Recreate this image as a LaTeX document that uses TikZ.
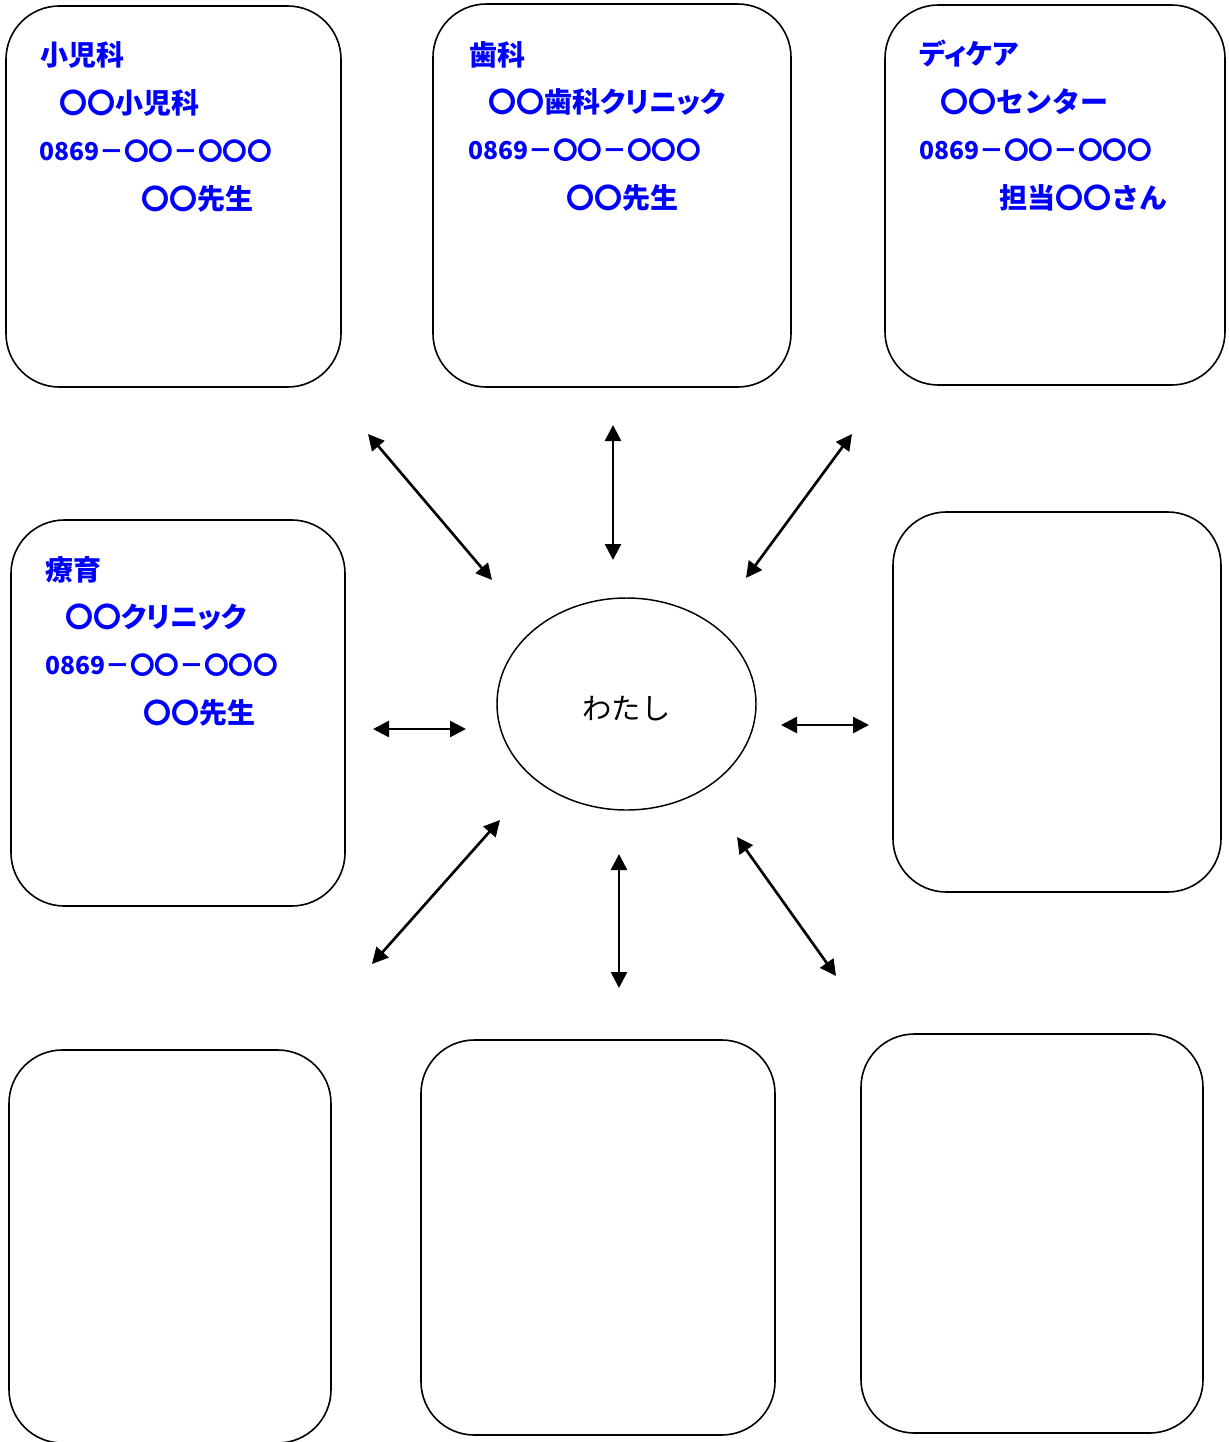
\documentclass[tikz,border=0pt]{standalone}
\usepackage{fontspec}
\setmainfont{Noto Sans CJK JP}
\newfontfamily\jpp{Noto Sans CJK JP}[RawFeature=+palt]
\usetikzlibrary{arrows.meta,shapes.geometric}
\definecolor{txtblue}{RGB}{0,0,255}
\tikzset{
  box/.style={draw, line width=1.2pt, rounded corners=40pt, inner sep=0pt, outer sep=0pt},
  lbl/.style={anchor=west, inner sep=0pt, text=txtblue, text height=0.88em, text depth=0.12em, font=\bfseries\fontsize{21}{21}\selectfont},
  plbl/.style={lbl, font=\jpp\bfseries\fontsize{21}{21}\selectfont},
  tel/.style={lbl, font=\bfseries\fontsize{18.5}{18.5}\selectfont},
  arr/.style={{Triangle[length=12pt,width=12pt]}-{Triangle[length=12pt,width=12pt]}, line width=2pt},
}
\begin{document}
\begin{tikzpicture}[x=0.75pt,y=-0.75pt]
\clip (0,0) rectangle (1228,1442);
% boxes
\node (b1) [box, minimum width=251.25pt, minimum height=285.75pt] at (173.5,196.5) {};
\node (b2) [box, minimum width=268.5pt, minimum height=287.25pt] at (612,195.5) {};
\node (b3) [box, minimum width=255pt, minimum height=285pt] at (1055,195) {};
\node (b4) [box, minimum width=250.5pt, minimum height=289.5pt] at (178,713) {};
\node (b5) [box, minimum width=246pt, minimum height=285pt] at (1057,702) {};
\node (b6) [box, minimum width=241.5pt, minimum height=294.75pt] at (170,1246.5) {};
\node (b7) [box, minimum width=265.5pt, minimum height=296.25pt] at (598,1237.5) {};
\node (b8) [box, minimum width=256.5pt, minimum height=299.25pt] at (1032,1233.5) {};
% centre
\node (me) [draw, ellipse, line width=1.1pt, minimum width=194.25pt, minimum height=159pt, inner sep=0pt, text height=25.4pt, text depth=2.6pt, font=\fontsize{22}{22}\selectfont] at (626.5,704) {わたし};
% texts box 1
\node (t11) [lbl] at (40,60) {小児科};
\node (t12) [lbl] at (59,108) {〇〇小児科};
\node (t13) [tel] at (39,155) {0869－〇〇－〇〇〇};
\node (t14) [lbl] at (141,204) {〇〇先生};
% texts box 2
\node (t21) [lbl] at (469,60) {歯科};
\node (t22) [plbl] at (488,107) {〇〇歯科クリニック};
\node (t23) [tel] at (468,154) {0869－〇〇－〇〇〇};
\node (t24) [lbl] at (566,203) {〇〇先生};
% texts box 3
\node (t31) [plbl] at (919,59) {ディケア};
\node (t32) [lbl] at (940,107) {〇〇センター};
\node (t33) [tel] at (919,154) {0869－〇〇－〇〇〇};
\node (t34) [lbl] at (999,203) {担当〇〇さん};
% texts box 4
\node (t41) [lbl] at (45,575) {療育};
\node (t42) [plbl] at (65,622) {〇〇クリニック};
\node (t43) [tel] at (45,669) {0869－〇〇－〇〇〇};
\node (t44) [lbl] at (143,718) {〇〇先生};
% arrow end points
\coordinate (a1s) at (368,434); \coordinate (a1e) at (492,580);
\coordinate (a2s) at (613,425); \coordinate (a2e) at (613,560);
\coordinate (a3s) at (852,434); \coordinate (a3e) at (746,578);
\coordinate (a4s) at (373,729); \coordinate (a4e) at (466,729);
\coordinate (a5s) at (781,725); \coordinate (a5e) at (869,725);
\coordinate (a6s) at (500,820); \coordinate (a6e) at (372,964);
\coordinate (a7s) at (619,854); \coordinate (a7e) at (619,988);
\coordinate (a8s) at (737,837); \coordinate (a8e) at (836,976);
\draw[arr] (a1s) -- (a1e);
\draw[arr] (a2s) -- (a2e);
\draw[arr] (a3s) -- (a3e);
\draw[arr] (a4s) -- (a4e);
\draw[arr] (a5s) -- (a5e);
\draw[arr] (a6s) -- (a6e);
\draw[arr] (a7s) -- (a7e);
\draw[arr] (a8s) -- (a8e);
\end{tikzpicture}
\end{document}
